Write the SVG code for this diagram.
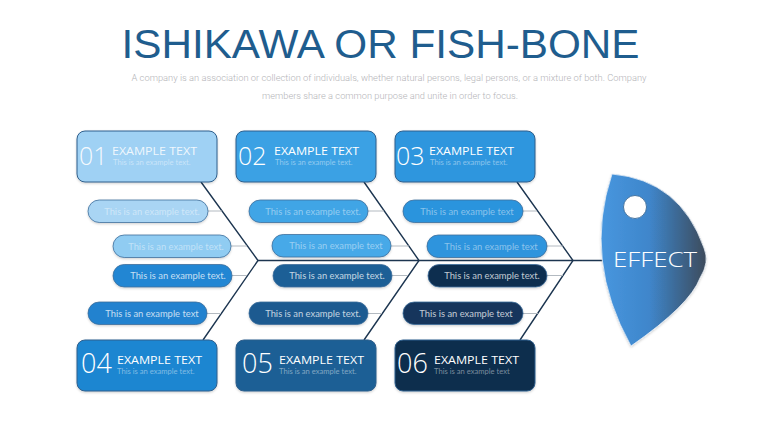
<svg xmlns="http://www.w3.org/2000/svg" width="760" height="428" viewBox="0 0 760 428">
<defs>
<style>
.title{font-family:"Liberation Sans",Roboto,Arial,sans-serif;font-size:40px;fill:#1f5d8e;}
.sub{font-family:Roboto,"Liberation Sans",sans-serif;font-weight:300;font-size:9.2px;fill:#b4b4b8;text-anchor:middle;}
.box{stroke:#2f5f8c;stroke-width:1;filter:url(#sh);}
.pill{stroke:#3f6f9c;stroke-width:0.8;filter:url(#sh);}
.num{font-family:"Open Sans","Liberation Sans",sans-serif;font-weight:300;fill:#ffffff;}
.hd{font-family:"Open Sans","Liberation Sans",sans-serif;font-size:10.5px;fill:#ffffff;}
.st{font-family:Lato,"Open Sans",sans-serif;font-size:7.6px;fill:#ffffff;fill-opacity:0.45;}
.pt{font-family:Lato,"Open Sans",sans-serif;font-size:9.4px;fill:#ffffff;fill-opacity:0.75;text-anchor:middle;}
.pt.faint{fill-opacity:0.45;}
.bone{stroke:#1c3550;stroke-width:1.4;fill:none;}
.tie{stroke:#aab2ba;stroke-width:0.9;fill:none;}
.eff{font-family:"Open Sans","Liberation Sans",sans-serif;font-weight:300;font-size:21px;fill:#ffffff;text-anchor:middle;}
</style>
<filter id="sh" x="-10%" y="-20%" width="120%" height="150%">
<feDropShadow dx="0" dy="1.2" stdDeviation="1.2" flood-color="#000" flood-opacity="0.18"/>
</filter>
<linearGradient id="fishg" gradientUnits="userSpaceOnUse" x1="602" y1="0" x2="707" y2="0">
<stop offset="0" stop-color="#4796de"/>
<stop offset="0.45" stop-color="#3f86cb"/>
<stop offset="1" stop-color="#3c4a5a"/>
</linearGradient>
</defs>
<rect width="760" height="428" fill="#ffffff"/>

<text class="title" x="380.5" y="58" text-anchor="middle" textLength="518" lengthAdjust="spacingAndGlyphs">ISHIKAWA OR FISH-BONE</text>
<text class="sub" x="389" y="81" textLength="515" lengthAdjust="spacingAndGlyphs">A company is an association or collection of individuals, whether natural persons, legal persons, or a mixture of both. Company</text>
<text class="sub" x="390" y="99" textLength="256" lengthAdjust="spacingAndGlyphs">members share a common purpose and unite in order to focus.</text>

<g id="connectors">
<line class="bone" x1="258" y1="260.5" x2="603" y2="260.5"/>
<polyline class="bone" points="201,182 258,260.5 203,340"/>
<polyline class="bone" points="364,182 419,260.5 364,340"/>
<polyline class="bone" points="517,182 573,260.5 520,340"/>
<line class="tie" x1="208" y1="211" x2="222" y2="211"/>
<line class="tie" x1="231" y1="246" x2="247" y2="246"/>
<line class="tie" x1="232" y1="275.5" x2="247" y2="275.5"/>
<line class="tie" x1="207" y1="313.5" x2="221" y2="313.5"/>
<line class="tie" x1="368" y1="211" x2="384" y2="211"/>
<line class="tie" x1="391" y1="246" x2="409" y2="246"/>
<line class="tie" x1="392" y1="275.5" x2="408" y2="275.5"/>
<line class="tie" x1="368" y1="313.5" x2="382" y2="313.5"/>
<line class="tie" x1="523" y1="211" x2="537" y2="211"/>
<line class="tie" x1="547" y1="246" x2="563" y2="246"/>
<line class="tie" x1="547" y1="275.5" x2="563" y2="275.5"/>
<line class="tie" x1="523" y1="313.5" x2="538" y2="313.5"/>
</g>

<g id="box01">
<rect class="box" x="77" y="131" width="140" height="51" rx="8" fill="#9fd1f4" stroke="#5a8fbe"/>
<text class="num" x="79" y="165" font-size="25" fill-opacity="0.9">01</text>
<text class="hd" x="112" y="155" textLength="85" lengthAdjust="spacingAndGlyphs" fill-opacity="0.85">EXAMPLE TEXT</text>
<text class="st" x="113" y="164.5">This is an example text.</text>
</g>
<g id="box02">
<rect class="box" x="236" y="131" width="140" height="51" rx="8" fill="#3ba1e4"/>
<text class="num" x="238" y="165" font-size="25">02</text>
<text class="hd" x="274" y="155" textLength="85" lengthAdjust="spacingAndGlyphs">EXAMPLE TEXT</text>
<text class="st" x="275" y="164.5">This is an example text.</text>
</g>
<g id="box03">
<rect class="box" x="395" y="131" width="140" height="51" rx="8" fill="#2e96de"/>
<text class="num" x="396" y="165" font-size="25">03</text>
<text class="hd" x="429" y="155" textLength="85" lengthAdjust="spacingAndGlyphs">EXAMPLE TEXT</text>
<text class="st" x="430" y="164.5">This is an example text.</text>
</g>
<g id="box04">
<rect class="box" x="77" y="340" width="140" height="51" rx="8" fill="#1e86d1" stroke="#4a8fc8"/>
<text class="num" x="81" y="373" font-size="27">04</text>
<text class="hd" x="117" y="364" textLength="85" lengthAdjust="spacingAndGlyphs">EXAMPLE TEXT</text>
<text class="st" x="117" y="374">This is an example text.</text>
</g>
<g id="box05">
<rect class="box" x="236" y="340" width="140" height="51" rx="8" fill="#1b5e95" stroke="#3b73a6"/>
<text class="num" x="242" y="373" font-size="27">05</text>
<text class="hd" x="279" y="364" textLength="85" lengthAdjust="spacingAndGlyphs">EXAMPLE TEXT</text>
<text class="st" x="279" y="374">This is an example text.</text>
</g>
<g id="box06">
<rect class="box" x="395" y="340" width="140" height="51" rx="8" fill="#0e2d4e" stroke="#2a4c70"/>
<text class="num" x="397" y="373" font-size="27">06</text>
<text class="hd" x="434" y="364" textLength="85" lengthAdjust="spacingAndGlyphs">EXAMPLE TEXT</text>
<text class="st" x="434" y="374">This is an example text</text>
</g>

<g id="pillA1"><rect class="pill" x="88" y="200" width="120" height="22.5" rx="11.25" fill="#a9d5f4" stroke="#6d9fc6"/><text class="pt faint" x="152" y="214.5">This is an example text.</text></g>
<g id="pillA2"><rect class="pill" x="113" y="235" width="118" height="22.5" rx="11.25" fill="#90ccf2" stroke="#6d9fc6"/><text class="pt faint" x="176" y="249.5">This is an example text.</text></g>
<g id="pillA3"><rect class="pill" x="113" y="264.5" width="119" height="22.5" rx="11.25" fill="#2286d3"/><text class="pt" x="178" y="279">This is an example text.</text></g>
<g id="pillA4"><rect class="pill" x="88" y="302" width="119" height="22.5" rx="11.25" fill="#2082cf"/><text class="pt" x="152" y="316.5">This is an example text</text></g>

<g id="pillB1"><rect class="pill" x="249" y="200" width="119" height="22.5" rx="11.25" fill="#41a5e6"/><text class="pt faint" x="313" y="214.5">This is an example text.</text></g>
<g id="pillB2"><rect class="pill" x="272" y="234.5" width="119" height="22.5" rx="11.25" fill="#46a9e8"/><text class="pt faint" x="336" y="249">This is an example text</text></g>
<g id="pillB3"><rect class="pill" x="273" y="264.5" width="119" height="22.5" rx="11.25" fill="#1b5e96"/><text class="pt" x="337" y="279">This is an example text.</text></g>
<g id="pillB4"><rect class="pill" x="249" y="302" width="119" height="22.5" rx="11.25" fill="#1a5a90"/><text class="pt" x="313" y="316.5">This is an example text.</text></g>

<g id="pillC1"><rect class="pill" x="403" y="200" width="120" height="22.5" rx="11.25" fill="#2c94dd"/><text class="pt faint" x="467" y="214.5">This is an example text</text></g>
<g id="pillC2"><rect class="pill" x="427" y="235" width="120" height="22.5" rx="11.25" fill="#2d94dd"/><text class="pt faint" x="491" y="249.5">This is an example text</text></g>
<g id="pillC3"><rect class="pill" x="428" y="264.5" width="119" height="22.5" rx="11.25" fill="#0f2e50"/><text class="pt" x="492" y="279">This is an example text.</text></g>
<g id="pillC4"><rect class="pill" x="403" y="302" width="120" height="22.5" rx="11.25" fill="#13355b"/><text class="pt" x="466" y="316.5">This is an example text</text></g>

<g id="effect">
<path d="M612,174 Q680,180 704,248 Q710,262 700,278 Q690,305 631,346 Q583,260 612,174 Z" fill="url(#fishg)" stroke="#e6eef6" stroke-width="0.8" filter="url(#sh)"/>
<circle cx="635" cy="207" r="11.5" fill="#ffffff" stroke="#2e5f8e" stroke-width="0.8"/>
<text class="eff" x="655" y="266.5" textLength="84" lengthAdjust="spacingAndGlyphs">EFFECT</text>
</g>
</svg>
